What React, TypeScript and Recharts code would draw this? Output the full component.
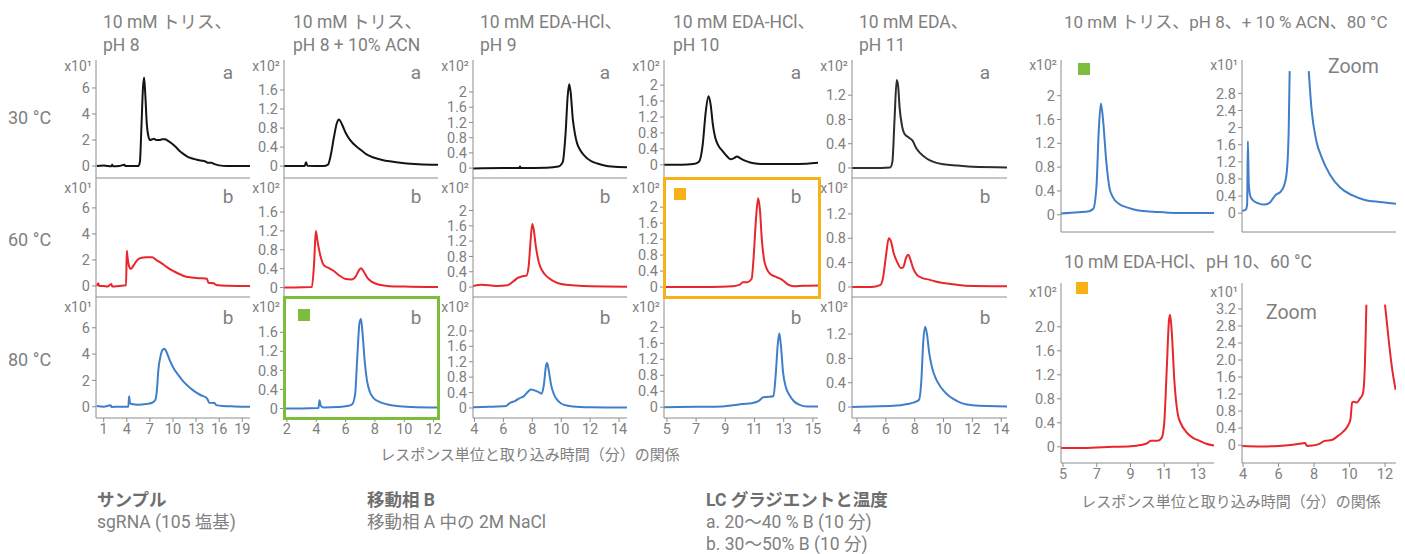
import React from 'react';
import { LineChart, Line, XAxis, YAxis } from 'recharts';

type Pt = [number, number | null];

const FONT = "Roboto, 'Noto Sans CJK JP', sans-serif";
const TEXT = '#808080';
const AXIS = '#8c8c8c';
const BLACK = '#141414';
const DARK = '#2c2c32';
const RED = '#e8262b';
const BLUE = '#3f7fca';
const ORANGE = '#f7b217';
const GREEN = '#7cbd3c';

// column titles
const colTitles = [
  ['10 mM トリス、', 'pH 8'],
  ['10 mM トリス、', 'pH 8 + 10% ACN'],
  ['10 mM EDA-HCl、', 'pH 9'],
  ['10 mM EDA-HCl、', 'pH 10'],
  ['10 mM EDA、', 'pH 11'],
];
const rowLabels = ['30 °C', '60 °C', '80 °C'];
const rowLetters = ['a', 'b', 'b'];

// x axes of the grid columns
const colXDomains: [number, number][] = [[0, 20], [1.8, 12.3], [3.9, 14.55], [4.8, 15.35], [3.65, 14.4]];
const colXTicks = [[1, 4, 7, 10, 13, 16, 19], [2, 4, 6, 8, 10, 12], [4, 6, 8, 10, 12, 14], [5, 7, 9, 11, 13, 15], [4, 6, 8, 10, 12, 14]];
const colYTicks = [[0, 2, 4, 6], [0, 0.4, 0.8, 1.2, 1.6], [0, 0.4, 0.8, 1.2, 1.6, 2], [0, 0.4, 0.8, 1.2, 1.6, 2], [0, 0.4, 0.8, 1.2]];
const colExp = ['x10¹', 'x10²', 'x10²', 'x10²', 'x10²'];

const yDomains: [number, number][][] = [
  [[-0.92, 8.15], [-0.25, 2.23], [-0.26, 2.84], [-0.33, 2.63], [-0.165, 1.78]],
  [[-0.85, 8.3], [-0.2, 2.32], [-0.26, 2.85], [-0.25, 2.73], [-0.165, 1.79]],
  [[-0.86, 8.34], [-0.2, 2.34], [-0.26, 2.88], [-0.27, 2.76], [-0.18, 1.81]],
];

// row 1 (30 °C, gradient a)
const tris30: Pt[] = [[0.1, 0], [1, 0.05], [1.5, 0], [2, -0.02], [2.1, 0.1], [2.2, -0.02], [3, 0], [3.7, 0.1], [3.8, 0], [5.5, 0], [5.7, 0.3], [5.9, 3], [6.1, 6], [6.25, 6.8], [6.4, 5.5], [6.6, 3.2], [6.8, 2.3], [7.0, 2.0], [7.3, 2.05], [7.5, 2.1], [7.8, 2.0], [8.2, 2.0], [8.6, 2.05], [9.0, 2.05], [9.3, 1.95], [9.8, 1.75], [10.3, 1.5], [10.8, 1.2], [11.3, 0.95], [11.8, 0.75], [12.4, 0.6], [13, 0.5], [13.6, 0.42], [14.2, 0.35], [14.6, 0.25], [15, 0.25], [15.4, 0.15], [16, 0.05], [17, 0], [20, 0]];
const trisAcn30: Pt[] = [[1.8, 0], [3.2, 0], [3.3, 0.08], [3.4, 0.01], [4.5, 0], [4.8, 0.03], [5.0, 0.25], [5.2, 0.6], [5.4, 0.9], [5.55, 0.98], [5.75, 0.88], [6.0, 0.7], [6.3, 0.55], [6.7, 0.42], [7.0, 0.35], [7.4, 0.25], [7.9, 0.18], [8.5, 0.13], [9.0, 0.1], [10, 0.06], [11, 0.04], [12.3, 0.03]];
const eda9_30: Pt[] = [[3.9, -0.01], [6, 0], [7.1, 0], [7.15, 0.04], [7.2, 0], [9, 0.01], [9.8, 0.04], [10.1, 0.15], [10.3, 0.9], [10.45, 1.9], [10.55, 2.2], [10.65, 2.0], [10.8, 1.3], [10.95, 0.9], [11.1, 0.65], [11.3, 0.48], [11.6, 0.33], [12, 0.2], [12.5, 0.12], [13, 0.07], [13.5, 0.04], [14.55, 0.02]];
const eda10_30: Pt[] = [[4.8, 0], [6, 0], [6.8, 0.02], [7.2, 0.08], [7.45, 0.5], [7.65, 1.3], [7.85, 1.72], [8.0, 1.5], [8.15, 1.0], [8.3, 0.7], [8.5, 0.5], [8.8, 0.35], [9.1, 0.22], [9.35, 0.14], [9.6, 0.17], [9.8, 0.21], [10.0, 0.17], [10.3, 0.11], [10.7, 0.06], [11.2, 0.03], [12, 0.02], [14, 0.02], [15.35, 0.05]];
const eda11_30: Pt[] = [[3.65, 0], [5, 0], [6.3, 0.01], [6.45, 0.1], [6.6, 0.8], [6.75, 1.45], [6.85, 1.35], [6.95, 1.0], [7.1, 0.72], [7.3, 0.56], [7.6, 0.5], [7.85, 0.45], [8.1, 0.33], [8.4, 0.24], [8.8, 0.16], [9.3, 0.1], [10, 0.06], [11, 0.04], [12, 0.02], [14.4, 0.01]];

// row 2 (60 °C, gradient b)
const tris60: Pt[] = [[0.1, 0], [0.3, 0.2], [0.4, 0], [1, 0], [1.5, -0.05], [2, 0.15], [2.1, -0.05], [3, 0], [3.9, 0.05], [4.0, 2.7], [4.1, 2.2], [4.3, 1.5], [4.5, 1.3], [4.9, 1.6], [5.3, 1.95], [5.8, 2.15], [6.5, 2.2], [7.3, 2.2], [7.8, 2.0], [8.5, 1.75], [9.2, 1.45], [10, 1.15], [10.9, 0.9], [11.6, 0.72], [12.4, 0.65], [13.5, 0.6], [14.4, 0.55], [14.6, 0.25], [15.3, 0.2], [15.6, 0.08], [17, 0.02], [20, 0]];
const trisAcn60: Pt[] = [[1.8, 0], [2.5, 0], [3.7, 0.01], [3.85, 0.5], [3.97, 1.2], [4.1, 0.95], [4.3, 0.65], [4.5, 0.48], [4.8, 0.42], [5.2, 0.35], [5.6, 0.25], [6.0, 0.18], [6.4, 0.17], [6.7, 0.24], [6.9, 0.36], [7.05, 0.41], [7.25, 0.33], [7.5, 0.2], [7.8, 0.12], [8.3, 0.06], [9, 0.03], [10, 0.02], [12.3, 0.01]];
const eda9_60: Pt[] = [[3.9, 0.03], [4.5, 0.06], [5.5, 0.03], [6.3, 0.05], [6.7, 0.15], [7.0, 0.24], [7.3, 0.28], [7.6, 0.3], [7.75, 0.55], [7.9, 1.3], [8.0, 1.65], [8.1, 1.5], [8.25, 1.05], [8.45, 0.65], [8.7, 0.42], [9.0, 0.28], [9.4, 0.17], [10, 0.08], [11, 0.04], [12, 0.02], [14.55, 0.01]];
const eda10_60: Pt[] = [[4.8, 0], [8, 0], [9.5, 0.02], [10.0, 0.06], [10.2, 0.12], [10.5, 0.12], [10.8, 0.2], [10.95, 0.8], [11.1, 1.7], [11.25, 2.22], [11.38, 1.9], [11.5, 1.2], [11.65, 0.7], [11.85, 0.45], [12.1, 0.32], [12.5, 0.25], [12.9, 0.18], [13.3, 0.06], [13.7, 0.02], [14.3, 0.03], [15.35, 0.04]];
const eda11_60: Pt[] = [[3.65, 0], [5, 0], [5.6, 0.03], [5.8, 0.15], [6.0, 0.5], [6.2, 0.8], [6.35, 0.75], [6.55, 0.55], [6.8, 0.4], [7.05, 0.31], [7.2, 0.32], [7.4, 0.48], [7.55, 0.53], [7.7, 0.45], [7.9, 0.3], [8.15, 0.2], [8.5, 0.15], [9, 0.12], [9.6, 0.08], [10.5, 0.05], [11.5, 0.02], [14.4, 0.01]];

// row 3 (80 °C, gradient b)
const tris80: Pt[] = [[0.1, 0.05], [1, 0], [1.9, 0.1], [2.0, -0.02], [3, 0], [4.2, 0], [4.3, 0.8], [4.4, 0.3], [4.6, 0.2], [5.5, 0.15], [6.5, 0.2], [7.3, 0.3], [7.7, 0.5], [7.9, 1.2], [8.1, 2.8], [8.4, 3.9], [8.7, 4.35], [8.9, 4.4], [9.2, 4.1], [9.6, 3.5], [10.1, 2.9], [10.7, 2.4], [11.3, 1.95], [11.9, 1.6], [12.5, 1.3], [13.1, 1.05], [13.7, 0.85], [14.3, 0.7], [14.5, 0.55], [14.7, 0.3], [15.4, 0.28], [15.6, 0.12], [16.5, 0.05], [18, 0.02], [20, 0]];
const trisAcn80: Pt[] = [[1.8, 0], [3, 0], [4.15, 0.01], [4.22, 0.17], [4.3, 0.06], [4.5, 0.02], [5.5, 0.03], [6.1, 0.05], [6.45, 0.09], [6.65, 0.3], [6.8, 1.1], [6.95, 1.8], [7.05, 1.88], [7.15, 1.6], [7.3, 1.0], [7.45, 0.6], [7.65, 0.35], [7.9, 0.22], [8.3, 0.14], [8.8, 0.09], [9.5, 0.05], [10.5, 0.03], [12.3, 0.02]];
const eda9_80: Pt[] = [[3.9, 0.02], [5, 0.03], [6.2, 0.05], [6.35, 0.1], [6.5, 0.14], [6.8, 0.18], [7.1, 0.25], [7.4, 0.3], [7.7, 0.42], [7.9, 0.48], [8.2, 0.45], [8.5, 0.4], [8.65, 0.37], [8.8, 0.6], [8.95, 1.1], [9.03, 1.17], [9.15, 0.95], [9.3, 0.6], [9.5, 0.35], [9.8, 0.18], [10.2, 0.08], [10.8, 0.04], [12, 0.02], [14.55, 0.01]];
const eda10_80: Pt[] = [[4.8, 0], [7, 0.01], [8.8, 0.02], [9.8, 0.06], [10.1, 0.08], [10.8, 0.1], [11.3, 0.16], [11.6, 0.25], [12.0, 0.26], [12.3, 0.28], [12.45, 0.8], [12.6, 1.6], [12.7, 1.85], [12.82, 1.5], [12.95, 0.9], [13.15, 0.5], [13.4, 0.3], [13.7, 0.15], [14.1, 0.06], [14.6, 0.02], [15.35, 0.02]];
const eda11_80: Pt[] = [[3.65, 0], [5, 0.01], [6.5, 0.02], [7.5, 0.05], [8.0, 0.08], [8.3, 0.12], [8.45, 0.4], [8.6, 1.1], [8.72, 1.32], [8.85, 1.2], [9.0, 0.9], [9.2, 0.65], [9.5, 0.45], [9.8, 0.33], [10.2, 0.22], [10.7, 0.13], [11.3, 0.06], [12, 0.03], [14.4, 0.01]];

const gridSeries = [
  [tris30, trisAcn30, eda9_30, eda10_30, eda11_30],
  [tris60, trisAcn60, eda9_60, eda10_60, eda11_60],
  [tris80, trisAcn80, eda9_80, eda10_80, eda11_80],
];
const rowColors = [BLACK, RED, BLUE];

// right side panels
const acnFull: Pt[] = [[5.2, 0.02], [6, 0.04], [6.5, 0.06], [6.7, 0.1], [6.85, 0.5], [6.95, 1.4], [7.05, 1.87], [7.15, 1.6], [7.3, 0.9], [7.45, 0.45], [7.6, 0.3], [7.9, 0.18], [8.3, 0.12], [8.8, 0.07], [9.5, 0.05], [10.5, 0.03], [12.3, 0.03]];
const acnZoom: Pt[] = [[3.9, 0.05], [4.1, 0.08], [4.18, 0.2], [4.22, 1.68], [4.27, 0.7], [4.35, 0.4], [4.5, 0.3], [4.8, 0.23], [5.1, 0.2], [5.4, 0.24], [5.6, 0.35], [5.75, 0.43], [6.0, 0.5], [6.2, 0.65], [6.35, 1.0], [6.45, 2.0], [6.5, 3.32], [6.6, null], [7.4, null], [7.54, 3.32], [7.7, 2.4], [7.95, 1.7], [8.25, 1.3], [8.7, 0.9], [9.25, 0.6], [9.9, 0.42], [10.6, 0.31], [11.4, 0.26], [12.3, 0.22]];
const edaFull: Pt[] = [[4.88, -0.02], [6, -0.02], [7, -0.01], [8, 0], [9, 0.01], [9.6, 0.03], [10.0, 0.06], [10.2, 0.1], [10.6, 0.1], [10.85, 0.15], [11.0, 0.4], [11.15, 1.3], [11.28, 2.1], [11.35, 2.2], [11.45, 1.9], [11.6, 1.1], [11.8, 0.55], [12.0, 0.38], [12.3, 0.25], [12.7, 0.15], [13.1, 0.1], [13.5, 0.05], [13.95, 0.02]];
const edaZoom: Pt[] = [[3.94, -0.02], [5, -0.03], [6, -0.02], [6.8, 0.01], [7.3, 0.04], [7.5, 0.05], [7.6, -0.02], [7.9, -0.01], [8.3, 0.03], [8.6, 0.1], [9.0, 0.12], [9.3, 0.2], [9.6, 0.3], [9.9, 0.45], [10.05, 0.6], [10.15, 1.0], [10.25, 1.02], [10.4, 1.0], [10.6, 1.1], [10.75, 1.2], [10.85, 1.7], [10.95, 3.3], [11.0, null], [11.9, null], [12.0, 3.3], [12.2, 2.5], [12.4, 1.8], [12.6, 1.3]];

const colX = [[96, 250], [284, 438], [473, 627], [664, 818], [852, 1007]];
const rowY = [[60, 178], [178, 297], [297, 418]];
const colTitleX = [103, 293, 480, 673, 859];
const letterY = [73, 197, 318];
const expY = [66, 188, 307];

const fmt1 = (v: number) => (v === 0 ? '0' : v.toFixed(1));

interface PanelProps {
  pts: Pt[];
  x0: number; x1: number; y0: number; y1: number;
  xDomain: [number, number];
  yDomain: [number, number];
  yTicks: number[];
  xTicks?: number[];
  color: string;
  yFmt?: (v: number) => string;
}

function Panel({ pts, x0, x1, y0, y1, xDomain, yDomain, yTicks, xTicks, color, yFmt }: PanelProps) {
  const data = pts.map(([t, v]) => ({ t, v }));
  const yw = 50;
  const xh = xTicks ? 26 : 1;
  const tickStyle = { fill: TEXT, fontSize: 14.5, fontFamily: FONT };
  return (
    <div style={{ position: 'absolute', left: x0 - yw, top: y0 }}>
      <LineChart width={yw + (x1 - x0) + 4} height={y1 - y0 + xh} data={data} margin={{ top: 0, right: 4, bottom: 0, left: 0 }}>
        <XAxis type="number" dataKey="t" domain={xDomain} allowDataOverflow ticks={xTicks ?? []}
          tick={xTicks ? tickStyle : false} interval={0} height={xh} stroke={AXIS} tickSize={4} tickLine={{ stroke: AXIS }} />
        <YAxis type="number" domain={yDomain} allowDataOverflow ticks={yTicks} interval={0} width={yw}
          tick={tickStyle} stroke={AXIS} tickSize={4} tickFormatter={yFmt} />
        <Line dataKey="v" type="monotone" stroke={color} strokeWidth={2} dot={false} isAnimationActive={false} connectNulls={false} />
      </LineChart>
    </div>
  );
}

function Txt({ x, y, size = 16, children, align = 'left', weight = 400, color = TEXT }: any) {
  const style: React.CSSProperties = {
    position: 'absolute', top: y - size * 0.65, fontSize: size, lineHeight: `${size * 1.3}px`,
    whiteSpace: 'nowrap', color, fontFamily: FONT, fontWeight: weight,
  };
  if (align === 'right') style.right = 1405 - x;
  else if (align === 'center') { style.left = x; style.transform = 'translateX(-50%)'; }
  else style.left = x;
  return <div style={style}>{children}</div>;
}

function Square({ x, y, color }: { x: number; y: number; color: string }) {
  return <div style={{ position: 'absolute', left: x, top: y, width: 12, height: 12, background: color }} />;
}

export default function App() {
  return (
    <div style={{ position: 'absolute', left: 0, top: 0, width: 1405, height: 554, background: '#fff', overflow: 'hidden', fontFamily: FONT }}>
      {colTitles.map((t, c) => (
        <React.Fragment key={'t' + c}>
          <Txt x={colTitleX[c]} y={22} size={17.5}>{t[0]}</Txt>
          <Txt x={colTitleX[c]} y={45} size={17.5}>{t[1]}</Txt>
        </React.Fragment>
      ))}
      {rowLabels.map((r, i) => (
        <Txt key={r} x={8} y={[118, 240, 360][i]} size={18}>{r}</Txt>
      ))}

      {gridSeries.map((row, r) => row.map((pts, c) => (
        <React.Fragment key={`p${r}${c}`}>
          <Panel pts={pts} x0={colX[c][0]} x1={colX[c][1]} y0={rowY[r][0]} y1={rowY[r][1]}
            xDomain={colXDomains[c]} yDomain={yDomains[r][c]} yTicks={colYTicks[c]}
            xTicks={r === 2 ? colXTicks[c] : undefined}
            color={r === 0 && c === 4 ? DARK : rowColors[r]}
            yFmt={r === 2 && c === 2 ? fmt1 : undefined} />
          <Txt x={colX[c][0] - 4} y={expY[r]} size={14} align="right">{colExp[c]}</Txt>
          <Txt x={colX[c][1] - 22} y={letterY[r]} size={19} align="center">{rowLetters[r]}</Txt>
        </React.Fragment>
      )))}

      <div style={{ position: 'absolute', left: 663, top: 177, width: 158, height: 122, border: `3px solid ${ORANGE}`, boxSizing: 'border-box' }} />
      <Square x={674} y={188} color={ORANGE} />
      <div style={{ position: 'absolute', left: 283, top: 296, width: 157, height: 124, border: `3px solid ${GREEN}`, boxSizing: 'border-box' }} />
      <Square x={298} y={309} color={GREEN} />

      <Txt x={530} y={456} size={15} align="center">レスポンス単位と取り込み時間（分）の関係</Txt>

      {/* right side */}
      <Txt x={1064} y={22} size={17}>10 mM トリス、pH 8、+ 10 % ACN、80 °C</Txt>
      <Panel pts={acnFull} x0={1061} x1={1214} y0={60} y1={232} xDomain={[5.2, 12.3]} yDomain={[-0.29, 2.6]}
        yTicks={[0, 0.4, 0.8, 1.2, 1.6, 2]} color={BLUE} />
      <Txt x={1057} y={65} size={14} align="right">x10²</Txt>
      <Square x={1078} y={63} color={GREEN} />
      <Panel pts={acnZoom} x0={1242} x1={1396} y0={60} y1={232} xDomain={[3.9, 12.3]} yDomain={[-0.44, 3.58]}
        yTicks={[0, 0.4, 0.8, 1.2, 1.6, 2, 2.4, 2.8]} color={BLUE} />
      <Txt x={1238} y={65} size={14} align="right">x10¹</Txt>
      <Txt x={1328} y={67} size={19.5}>Zoom</Txt>

      <Txt x={1064} y={262} size={17.5}>10 mM EDA-HCl、pH 10、60 °C</Txt>
      <Panel pts={edaFull} x0={1061} x1={1214} y0={283} y1={463} xDomain={[4.88, 13.95]} yDomain={[-0.27, 2.73]}
        yTicks={[0, 0.4, 0.8, 1.2, 1.6, 2]} xTicks={[5, 7, 9, 11, 13]} color={RED} yFmt={fmt1} />
      <Txt x={1057} y={292} size={14} align="right">x10²</Txt>
      <Square x={1076} y={282} color={ORANGE} />
      <Panel pts={edaZoom} x0={1242} x1={1396} y0={283} y1={463} xDomain={[3.94, 12.62]} yDomain={[-0.42, 3.81]}
        yTicks={[0, 0.4, 0.8, 1.2, 1.6, 2, 2.4, 2.8, 3.2]} xTicks={[4, 6, 8, 10, 12]} color={RED} yFmt={fmt1} />
      <Txt x={1238} y={292} size={14} align="right">x10¹</Txt>
      <Txt x={1266} y={313} size={19.5}>Zoom</Txt>
      <Txt x={1231} y={503} size={15} align="center">レスポンス単位と取り込み時間（分）の関係</Txt>

      {/* notes */}
      <Txt x={97} y={500} size={17.5} weight={700} color="#6e6e6e">サンプル</Txt>
      <Txt x={97} y={522} size={17.5}>sgRNA (105 塩基)</Txt>
      <Txt x={367} y={500} size={17.5} weight={700} color="#6e6e6e">移動相 B</Txt>
      <Txt x={367} y={522} size={17.5}>移動相 A 中の 2M NaCl</Txt>
      <Txt x={706} y={500} size={17.5} weight={700} color="#6e6e6e">LC グラジエントと温度</Txt>
      <Txt x={706} y={522} size={17.5}>a. 20〜40 % B (10 分)</Txt>
      <Txt x={706} y={544} size={17.5}>b. 30〜50% B (10 分)</Txt>
    </div>
  );
}
